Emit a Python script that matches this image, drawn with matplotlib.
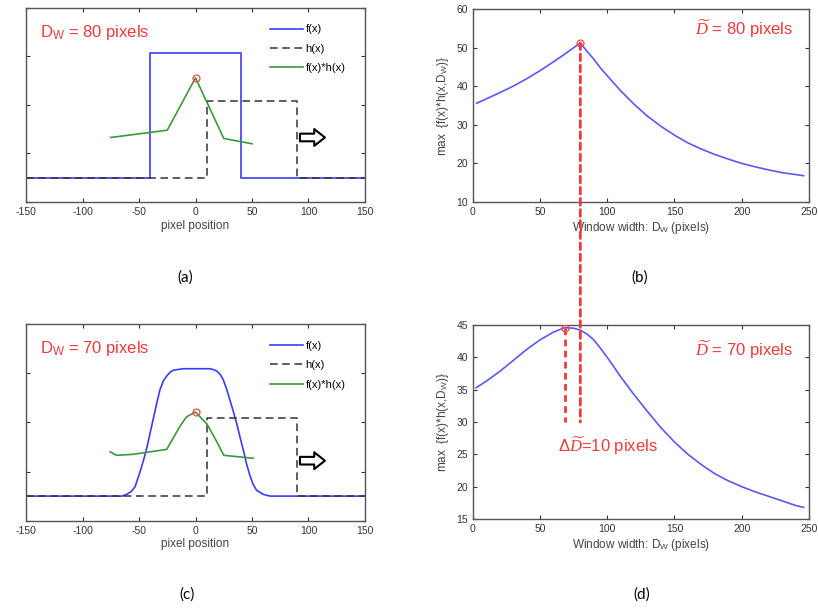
import matplotlib

matplotlib.use("Agg")
import matplotlib.pyplot as plt
from matplotlib.patches import ConnectionPatch

plt.rcParams["font.family"] = ["Liberation Sans", "DejaVu Sans"]
plt.rcParams["axes.unicode_minus"] = False
plt.rcParams["mathtext.fontset"] = "custom"
plt.rcParams["mathtext.rm"] = "Liberation Sans"
plt.rcParams["mathtext.sf"] = "Liberation Sans"
plt.rcParams["mathtext.it"] = "Liberation Serif:italic"

# ---- data ----
# (a) rect signal, window, product (baseline = 0.5)
a_f_x = [-150, -40, -40, 40, 40, 150]
a_f_y = [0.5, 0.5, 3.07, 3.07, 0.5, 0.5]
a_h_x = [-150, 10, 10, 90, 90, 150]
a_h_y = [0.5, 0.5, 2.08, 2.08, 0.5, 0.5]
a_g_x = [-75, -25, 0, 25, 50]
a_g_y = [1.33, 1.48, 2.56, 1.31, 1.20]
a_peak = (0, 2.56)

# (c) blurred signal
c_f_x = [-150, -65, -61, -57, -53.5, -49, -46, -43, -40, -37, -34, -31.5,
         -28.5, -25.5, -22.5, -19.5, -11, 13, 16, 19, 22, 24.5, 27.5, 30.5,
         33.5, 36.5, 39.5, 42.5, 45, 48, 51, 54, 60, 66, 150]
c_f_y = [0.5, 0.5, 0.535, 0.59, 0.69, 1.0, 1.23, 1.49, 1.80, 2.11, 2.42, 2.66,
         2.84, 2.94, 3.02, 3.06, 3.09, 3.09, 3.07, 3.04, 2.97, 2.87, 2.68, 2.45,
         2.22, 1.97, 1.69, 1.42, 1.17, 0.93, 0.74, 0.62, 0.535, 0.5, 0.5]
c_h_x = [-150, 10, 10, 90, 90, 150]
c_h_y = [0.5, 0.5, 2.08, 2.08, 0.5, 0.5]
c_g_x = [-75.5, -70, -55, -25.5, -13.5, -8, 0, 10, 18.5, 25, 33.5, 51]
c_g_y = [1.40, 1.33, 1.35, 1.45, 1.93, 2.11, 2.21, 1.97, 1.62, 1.33, 1.31, 1.27]
c_peak = (0, 2.21)

# (b) max response vs window width, rect signal
b_w = [3, 10, 20, 30, 40, 50, 60, 70, 80, 85, 90, 95, 100, 110, 120, 130,
       140, 150, 160, 170, 180, 190, 200, 210, 220, 230, 240, 246]
b_v = [35.6, 36.7, 38.3, 40.0, 41.9, 44.0, 46.3, 48.7, 51.2, 49.0, 47.0,
       44.7, 42.7, 38.8, 35.3, 32.2, 29.6, 27.3, 25.3, 23.7, 22.3, 21.1,
       20.0, 19.1, 18.3, 17.6, 17.1, 16.8]
b_peak = (80, 51.2)

# (d) max response vs window width, blurred signal
d_w = [2.5, 10, 20, 30, 40, 50, 60, 68.5, 75, 80, 85, 90, 95, 100, 110,
       120, 130, 140, 150, 160, 170, 180, 190, 200, 210, 220, 230, 240, 246]
d_v = [35.3, 36.3, 37.8, 39.5, 41.2, 42.7, 43.9, 44.6, 44.5, 44.2, 43.6,
       42.7, 41.4, 40.0, 37.0, 34.2, 31.6, 29.1, 26.9, 25.0, 23.4, 22.0,
       20.9, 20.0, 19.2, 18.5, 17.8, 17.1, 16.8]
d_peak = (68.5, 44.6)
dash_bottom = 30

RED = "#f03a3a"
BLUE = "#3b3bff"
CURVE = "#5a5af2"
GREEN = "#3a9a3a"
SPINE = "#555555"
DASH = (0, (2.4, 1.6))


def style_axes(ax):
    for s in ax.spines.values():
        s.set_color(SPINE)
        s.set_linewidth(1.0)
    ax.tick_params(direction="in", length=3, top=True, right=True,
                   labelsize=7.5, colors="#333333", width=0.8)


def signal_panel(ax, fx, fy, hx, hy, gx, gy, peak, label, arrow_y):
    ax.plot(fx, fy, color=BLUE, lw=1.2, label="f(x)")
    ax.plot(hx, hy, color="#333333", lw=1.1, ls=(0, (5, 3)), label="h(x)")
    ax.plot(gx, gy, color=GREEN, lw=1.2, label="f(x)*h(x)")
    ax.plot(*peak, "o", ms=5, mfc="none", mec="#ff4444", mew=0.9)
    ax.set_xlim(-150, 150)
    ax.set_ylim(0, 4)
    ax.set_xticks(range(-150, 151, 50))
    ax.set_yticks(range(0, 5))
    ax.set_yticklabels([])
    ax.set_xlabel("pixel position", fontsize=8.5, color="#444444", labelpad=2)
    style_axes(ax)
    ax.legend(loc="upper left", bbox_to_anchor=(0.72, 0.915), frameon=False,
              fontsize=8, handlelength=3.0, handletextpad=0.2,
              labelspacing=0.85, borderaxespad=0, borderpad=0)
    ax.text(0.041, 0.875, label, transform=ax.transAxes, color=RED,
            fontsize=12, va="center", ha="left")
    ax.annotate("", xy=(117, arrow_y), xytext=(90, arrow_y),
                arrowprops=dict(arrowstyle="simple,head_length=0.7,head_width=1.1,tail_width=0.5",
                                mutation_scale=11, fc="white", ec="black", lw=1.5))


def width_panel(ax, w, v, peak, ylim, yticks, label, label_y):
    ax.plot(w, v, color=CURVE, lw=1.2)
    ax.plot(*peak, "o", ms=5, mfc="none", mec="#ff4444", mew=0.9, zorder=5)
    ax.set_xlim(0, 250)
    ax.set_ylim(*ylim)
    ax.set_xticks(range(0, 251, 50))
    ax.set_yticks(yticks)
    ax.set_xlabel(r"Window width: D$_\mathsf{W}$ (pixels)", fontsize=8.5,
                  color="#444444", labelpad=2)
    ax.set_ylabel(r"max  {f(x)*h(x,D$_\mathsf{W}$)}", fontsize=8.5,
                  color="#444444", labelpad=4)
    style_axes(ax)
    ax.text(0.952, label_y, label, transform=ax.transAxes, color=RED,
            fontsize=12, va="center", ha="right")


fig = plt.figure(figsize=(8.18, 6.10), dpi=100)
ax_a = fig.add_axes([0.0318, 0.6689, 0.4144, 0.318])
ax_b = fig.add_axes([0.5779, 0.6689, 0.4111, 0.3164])
ax_c = fig.add_axes([0.0318, 0.1464, 0.4144, 0.3225])
ax_d = fig.add_axes([0.5779, 0.1492, 0.4111, 0.318])

signal_panel(ax_a, a_f_x, a_f_y, a_h_x, a_h_y, a_g_x, a_g_y, a_peak,
             r"D$_\mathrm{W}$ = 80 pixels", 1.33)
signal_panel(ax_c, c_f_x, c_f_y, c_h_x, c_h_y, c_g_x, c_g_y, c_peak,
             r"D$_\mathrm{W}$ = 70 pixels", 1.22)

width_panel(ax_b, b_w, b_v, b_peak, (10, 60), range(10, 61, 10),
            r"$\widetilde{D}$ = 80 pixels", 0.896)
width_panel(ax_d, d_w, d_v, d_peak, (15, 45), range(15, 46, 5),
            r"$\widetilde{D}$ = 70 pixels", 0.871)

# dashed guide from the (b) peak down into (d)
con = ConnectionPatch(xyA=b_peak, coordsA=ax_b.transData,
                      xyB=(b_peak[0], dash_bottom), coordsB=ax_d.transData,
                      color=RED, lw=2.0, ls=DASH, zorder=10)
fig.add_artist(con)
ax_d.plot([d_peak[0], d_peak[0]], [d_peak[1], dash_bottom], color=RED,
          lw=2.0, ls=DASH, zorder=4)
ax_d.text(0.254, 0.376, r"$\Delta\widetilde{D}$=10 pixels", transform=ax_d.transAxes,
          color=RED, fontsize=12, va="center", ha="left")

for x, y, s in [(185, 278, "(a)"), (640, 278, "(b)"), (187, 595, "(c)"), (642, 595, "(d)")]:
    fig.text(x / 818, 1 - y / 610, s, fontsize=11, ha="center", va="center",
             family=["Lato", "DejaVu Sans"])

fig.savefig("out.png", dpi=100)
